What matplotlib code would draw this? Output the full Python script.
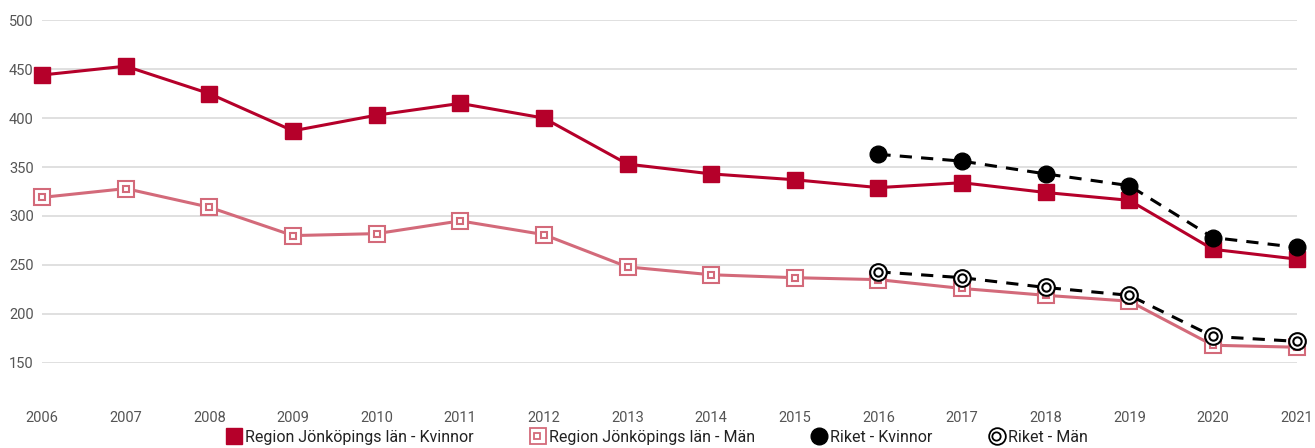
import matplotlib.pyplot as plt
from matplotlib.lines import Line2D
from matplotlib.legend_handler import HandlerTuple

plt.rcParams['font.family'] = ['Roboto', 'DejaVu Sans']

years = list(range(2006, 2022))
jkp_kvinnor = [444, 453, 425, 387, 403, 415, 400, 353, 343, 337, 329, 334, 324, 316, 266, 256]
jkp_man = [319, 328, 309, 280, 282, 295, 281, 248, 240, 237, 235, 226, 219, 213, 168, 166]
riket_years = [2016, 2017, 2018, 2019, 2020, 2021]
riket_kvinnor = [363, 356, 343, 331, 278, 268]
riket_man = [243, 237, 227, 219, 177, 172]
yticks = [150, 200, 250, 300, 350, 400, 450, 500]

RED = "#b5002a"
PINK = "#d36a7a"

fig = plt.figure(figsize=(13.15, 4.48), dpi=100)
ax = fig.add_axes([0.032, 0.19, 0.954, 0.765])

ax.plot(years, jkp_kvinnor, color=RED, lw=2.2, marker="s", ms=12,
        mfc=RED, mec=RED, clip_on=False, zorder=3)
ax.plot(years, jkp_man, color=PINK, lw=2.2, marker="s", ms=11,
        mfc="white", mec=PINK, mew=1.5, clip_on=False, zorder=3)
ax.plot(years, jkp_man, ls="none", marker="s", ms=5,
        mfc="white", mec=PINK, mew=1.5, clip_on=False, zorder=3)
ax.plot(riket_years, riket_kvinnor, color="black", lw=2.2, ls=(0, (4, 3)),
        marker="o", ms=12, mfc="black", mec="black", clip_on=False, zorder=4)
ax.plot(riket_years, riket_man, color="black", lw=2.2, ls=(0, (4, 3)),
        marker="o", ms=12, mfc="white", mec="black", mew=1.5, clip_on=False, zorder=4)
ax.plot(riket_years, riket_man, ls="none", marker="o", ms=6,
        mfc="white", mec="black", mew=1.5, clip_on=False, zorder=4)

ax.set_xlim(2006, 2021)
ax.set_ylim(150, 500)
ax.set_xticks(years)
ax.set_xticklabels([str(y) for y in years])
ax.set_yticks(yticks)
ax.grid(axis="y", color="#dddddd", lw=1.3)
ax.set_axisbelow(True)
for s in ax.spines.values():
    s.set_visible(False)
ax.tick_params(axis="both", length=0, labelsize=10.5, labelcolor="#555555")
ax.tick_params(axis="x", pad=35)
ax.tick_params(axis="y", pad=6)

h1 = Line2D([], [], ls="none", marker="s", ms=12, mfc=RED, mec=RED)
h2a = Line2D([], [], ls="none", marker="s", ms=12, mfc="white", mec=PINK, mew=1.3)
h2b = Line2D([], [], ls="none", marker="s", ms=5, mfc="white", mec=PINK, mew=1.3)
h3 = Line2D([], [], ls="none", marker="o", ms=12, mfc="black", mec="black")
h4a = Line2D([], [], ls="none", marker="o", ms=12, mfc="white", mec="black", mew=1.3)
h4b = Line2D([], [], ls="none", marker="o", ms=6, mfc="white", mec="black", mew=1.3)
fig.legend([h1, (h2a, h2b), h3, (h4a, h4b)],
           ["Region Jönköpings län - Kvinnor", "Region Jönköpings län - Män",
            "Riket - Kvinnor", "Riket - Män"],
           handler_map={tuple: HandlerTuple(ndivide=None, pad=-1.0)},
           loc="lower center", bbox_to_anchor=(0.5, -0.025), ncol=4, frameon=False,
           fontsize=11.5, handlelength=0.8, handletextpad=0.3, columnspacing=3.6,
           labelcolor="#222222")

fig.savefig("out.png", dpi=100)
